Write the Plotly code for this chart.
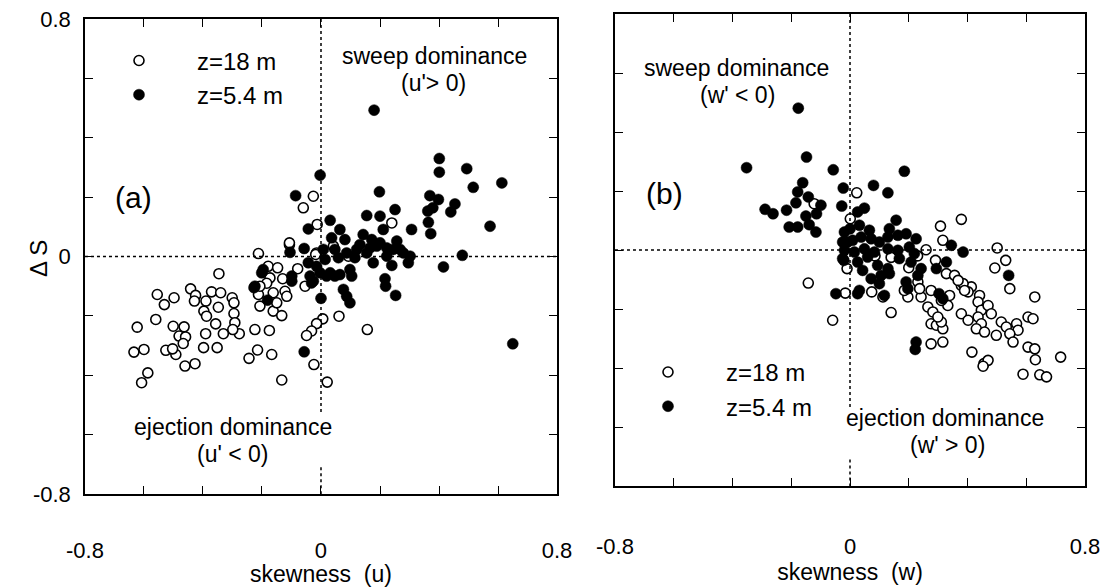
import plotly.graph_objects as go

# ---------------- data ----------------
# Panel (a): skewness(u) vs Delta S
a18_x = [-0.212,-0.107,-0.346,-0.555,-0.498,-0.531,-0.442,-0.425,-0.429,-0.390,-0.371,-0.340,-0.348,-0.397,-0.388,
         -0.301,-0.295,-0.295,-0.292,-0.277,-0.299,-0.331,-0.357,-0.391,-0.352,-0.398,-0.623,-0.560,-0.501,-0.464,
         -0.481,-0.459,-0.467,-0.492,-0.526,-0.503,-0.634,-0.600,-0.461,-0.427,-0.587,-0.608,-0.224,-0.175,-0.215,
         -0.244,-0.167,-0.133,-0.179,-0.147,-0.173,-0.130,-0.212,-0.162,-0.122,-0.116,-0.207,-0.162,-0.133,-0.150,
         0.061,0.157,0.006,-0.015,-0.032,-0.049,-0.024,0.021,-0.026,-0.060,-0.013,-0.015,-0.079,-0.054,0.240,
         0.093,0.042,-0.107,-0.018,-0.184,-0.207]
a18_y = [0.010,0.040,-0.058,-0.128,-0.139,-0.162,-0.109,-0.131,-0.150,-0.150,-0.119,-0.122,-0.171,-0.184,-0.201,
         -0.139,-0.156,-0.192,-0.223,-0.260,-0.246,-0.260,-0.227,-0.260,-0.307,-0.307,-0.238,-0.212,-0.235,-0.237,
         -0.268,-0.271,-0.293,-0.330,-0.316,-0.311,-0.322,-0.313,-0.369,-0.361,-0.392,-0.425,-0.246,-0.249,-0.315,
         -0.343,-0.330,-0.416,-0.033,-0.038,-0.072,-0.075,-0.128,-0.122,-0.117,-0.134,-0.167,-0.184,-0.199,-0.156,
         -0.201,-0.246,-0.210,-0.226,-0.251,-0.266,-0.364,-0.423,0.203,0.164,0.108,0.012,-0.041,-0.100,0.113,
         0.001,0.035,0.046,0.007,-0.090,-0.100]
a54_x = [-0.201,-0.227,-0.181,-0.099,-0.105,-0.003,-0.086,-0.043,-0.057,-0.043,-0.099,-0.196,-0.224,-0.032,0.000,
         -0.057,0.031,0.064,0.036,0.047,0.081,0.087,0.008,0.014,-0.015,-0.037,-0.003,0.031,0.064,0.098,
         0.104,0.076,0.087,0.098,0.155,0.200,0.198,0.251,0.211,0.143,0.172,0.132,0.166,0.200,0.223,
         0.257,0.268,0.223,0.177,0.240,0.302,0.296,0.217,0.219,0.253,0.307,0.369,0.398,0.362,0.379,
         0.364,0.372,0.401,0.401,0.494,0.516,0.454,0.440,0.479,0.415,0.121,0.155,0.189,0.245,0.279,
         0.059,0.115,0.019,0.047,-0.026,0.180,0.613,0.573,0.650]
a54_y = [-0.055,-0.105,-0.147,-0.066,0.014,0.274,0.205,0.093,0.027,-0.021,-0.083,-0.044,-0.100,-0.089,-0.141,
         -0.321,0.122,0.091,0.063,0.024,0.057,0.012,0.024,-0.010,-0.033,-0.066,-0.055,-0.055,-0.061,-0.044,
         -0.066,-0.111,-0.134,-0.156,0.138,0.136,0.218,0.158,0.091,0.074,0.057,0.040,0.029,0.046,0.029,
         0.052,0.024,0.001,-0.021,-0.030,0.001,-0.021,-0.075,-0.100,-0.131,0.091,0.205,0.192,0.153,0.164,
         0.115,0.077,0.330,0.284,0.296,0.233,0.177,0.150,0.004,-0.035,0.024,0.012,0.035,0.024,0.012,
         -0.004,-0.004,-0.066,-0.066,-0.083,0.493,0.248,0.102,-0.294]

# Panel (b): skewness(w) vs Delta S
b18_x = [-0.122,0.023,0.001,-0.010,-0.142,-0.016,0.074,0.112,0.140,-0.059,0.308,0.379,0.316,0.259,0.501,
         0.291,0.530,0.493,0.328,0.356,0.379,0.413,0.544,0.629,0.231,0.276,0.197,0.242,0.339,0.402,
         0.441,0.265,0.282,0.333,0.436,0.447,0.470,0.481,0.379,0.402,0.436,0.447,0.276,0.294,0.316,
         0.311,0.515,0.532,0.567,0.572,0.544,0.430,0.458,0.498,0.606,0.623,0.555,0.606,0.629,0.276,
         0.316,0.415,0.456,0.470,0.453,0.589,0.646,0.669,0.717,0.631,0.185,0.237,0.311,0.299,0.385,
         0.368,0.390,0.085,0.140,0.200,0.230]
b18_y = [0.157,0.194,0.106,-0.063,-0.112,-0.146,-0.142,-0.159,-0.212,-0.238,0.081,0.104,0.033,0.001,0.007,
         -0.035,-0.035,-0.061,-0.080,-0.086,-0.120,-0.125,-0.131,-0.159,-0.108,-0.137,-0.159,-0.159,-0.154,-0.142,
         -0.154,-0.193,-0.210,-0.188,-0.176,-0.204,-0.188,-0.216,-0.216,-0.238,-0.227,-0.250,-0.250,-0.255,-0.267,
         -0.244,-0.244,-0.261,-0.250,-0.272,-0.284,-0.267,-0.278,-0.289,-0.227,-0.233,-0.312,-0.329,-0.335,-0.318,
         -0.312,-0.346,-0.385,-0.374,-0.394,-0.421,-0.423,-0.430,-0.363,-0.372,-0.137,-0.131,-0.171,-0.227,-0.114,
         -0.103,-0.137,-0.020,-0.025,-0.060,-0.020]
b54_x = [-0.176,-0.148,-0.352,-0.057,-0.161,-0.178,-0.142,-0.184,-0.099,-0.289,-0.262,-0.216,-0.150,-0.114,-0.207,
         -0.178,-0.139,-0.116,-0.023,-0.028,-0.019,-0.008,-0.021,0.185,0.080,0.129,0.049,0.026,0.000,0.032,
         0.066,-0.025,0.009,0.038,0.072,0.100,0.129,0.157,0.134,0.163,0.191,0.225,-0.019,0.015,0.049,
         0.083,0.129,0.163,0.202,0.219,-0.025,0.026,0.060,0.094,0.129,0.168,0.208,0.242,0.231,0.043,
         0.072,0.106,0.134,0.100,0.191,0.197,-0.048,0.032,0.026,0.117,0.345,0.385,0.328,0.294,0.303,
         0.316,0.540,0.225,0.222]
b54_y = [0.481,0.315,0.279,0.272,0.228,0.197,0.180,0.160,0.152,0.138,0.123,0.135,0.115,0.123,0.078,
         0.078,0.086,0.061,0.210,0.149,0.061,0.027,-0.035,0.267,0.219,0.194,0.142,0.129,0.072,0.084,
         0.067,0.027,0.033,0.044,0.038,0.027,0.044,0.101,0.072,0.050,0.055,0.038,-0.001,-0.007,0.004,
         -0.007,0.004,-0.001,0.010,-0.012,-0.029,-0.041,-0.024,-0.052,-0.063,-0.029,-0.041,-0.063,-0.086,-0.069,
         -0.097,-0.086,-0.080,-0.114,-0.108,-0.131,-0.148,-0.137,-0.148,-0.154,0.016,-0.007,-0.041,-0.063,-0.148,
         -0.165,-0.086,-0.312,-0.337]

series_names = ["z=18 m", "z=5.4 m"]
tick_vals = [-0.8, -0.6, -0.4, -0.2, 0, 0.2, 0.4, 0.6, 0.8]
tick_text = ["-0.8", "", "", "", "0", "", "", "", "0.8"]

FONT = "Liberation Sans, Arial, Helvetica, sans-serif"
open_marker = dict(symbol="circle", size=10, color="white", line=dict(color="black", width=1.6))
fill_marker = dict(symbol="circle", size=11, color="black", line=dict(color="black", width=0.5))

fig = go.Figure()
fig.add_trace(go.Scatter(x=a18_x, y=a18_y, mode="markers", marker=open_marker, name=series_names[0],
                         xaxis="x", yaxis="y", legend="legend"))
fig.add_trace(go.Scatter(x=a54_x, y=a54_y, mode="markers", marker=fill_marker, name=series_names[1],
                         xaxis="x", yaxis="y", legend="legend"))
fig.add_trace(go.Scatter(x=b18_x, y=b18_y, mode="markers", marker=open_marker, name=series_names[0],
                         xaxis="x2", yaxis="y2", legend="legend2"))
fig.add_trace(go.Scatter(x=b54_x, y=b54_y, mode="markers", marker=fill_marker, name=series_names[1],
                         xaxis="x2", yaxis="y2", legend="legend2"))

axis_common = dict(range=[-0.8, 0.8], tickmode="array", tickvals=tick_vals, ticktext=tick_text,
                   ticks="inside", ticklen=8, tickwidth=1.3, tickcolor="black", automargin=False,
                   showline=True, linecolor="black", linewidth=1.5, mirror="ticks",
                   ticklabeloverflow="allow",
                   showgrid=False, zeroline=False, tickfont=dict(size=22, color="black", family=FONT))

W, H = 1106, 579
fig.update_layout(
    width=W, height=H, margin=dict(l=0, r=0, t=0, b=0, autoexpand=False),
    paper_bgcolor="white", plot_bgcolor="white",
    font=dict(family=FONT, color="black", size=22),
    xaxis=dict(axis_common, domain=[0.0696, 0.4964], anchor="y", ticklabelstandoff=36,
               title=dict(text="skewness  (u)", font=dict(size=23), standoff=10)),
    yaxis=dict(axis_common, domain=[0.1606, 0.981], anchor="x", ticklabelstandoff=8),
    xaxis2=dict(axis_common, domain=[0.5488, 0.9738], anchor="y2", ticklabelstandoff=40,
                title=dict(text="skewness  (w)", font=dict(size=23), standoff=0)),
    yaxis2=dict(axis_common, domain=[0.1744, 0.9896], anchor="x2", showticklabels=False),
    legend=dict(x=0.066, y=0.9475, xanchor="left", yanchor="top", itemwidth=106,
                font=dict(size=24), bgcolor="rgba(0,0,0,0)", tracegroupgap=0),
    legend2=dict(x=0.5443, y=0.4095, xanchor="left", yanchor="top", itemwidth=106,
                 font=dict(size=24), bgcolor="rgba(0,0,0,0)", tracegroupgap=0),
    showlegend=True,
)

# y-axis title (rotated, placed close to the axis as in the original)
fig.add_annotation(x=0.0271, y=0.568, xref="paper", yref="paper", xanchor="center", yanchor="middle",
                   text="Δ S", textangle=-90, showarrow=False,
                   font=dict(size=24, color="black", family=FONT))

# zero reference lines (dotted)
dot = dict(color="black", width=1.5, dash="dot")
for xr, yr, ycut in (("x", "y", -0.525), ("x2", "y2", -0.532)):
    fig.add_shape(type="line", xref=xr, yref=yr, x0=-0.8, x1=0.8, y0=0, y1=0, line=dot)
    fig.add_shape(type="line", xref=xr, yref=yr, x0=0, x1=0, y0=0.8, y1=ycut, line=dot)
    fig.add_shape(type="line", xref=xr, yref=yr, x0=0, x1=0, y0=-0.71, y1=-0.8, line=dot)

ann_font = dict(size=23, color="black", family=FONT)
texts = [
    ("x", "y", 0.386, 0.675, "sweep dominance"),
    ("x", "y", 0.380, 0.584, "(u'> 0)"),
    ("x", "y", -0.298, -0.575, "ejection dominance"),
    ("x", "y", -0.298, -0.665, "(u' < 0)"),
    ("x2", "y2", -0.386, 0.617, "sweep dominance"),
    ("x2", "y2", -0.382, 0.525, "(w' < 0)"),
    ("x2", "y2", 0.324, -0.569, "ejection dominance"),
    ("x2", "y2", 0.331, -0.661, "(w' > 0)"),
]
for xr, yr, tx, ty, t in texts:
    fig.add_annotation(x=tx, y=ty, xref=xr, yref=yr, text=t, showarrow=False, font=ann_font)
fig.add_annotation(x=-0.637, y=0.2, xref="x", yref="y", text="(a)", showarrow=False,
                   font=dict(size=30, color="black", family=FONT))
fig.add_annotation(x=-0.631, y=0.19, xref="x2", yref="y2", text="(b)", showarrow=False,
                   font=dict(size=30, color="black", family=FONT))

fig.write_html("out.html")
